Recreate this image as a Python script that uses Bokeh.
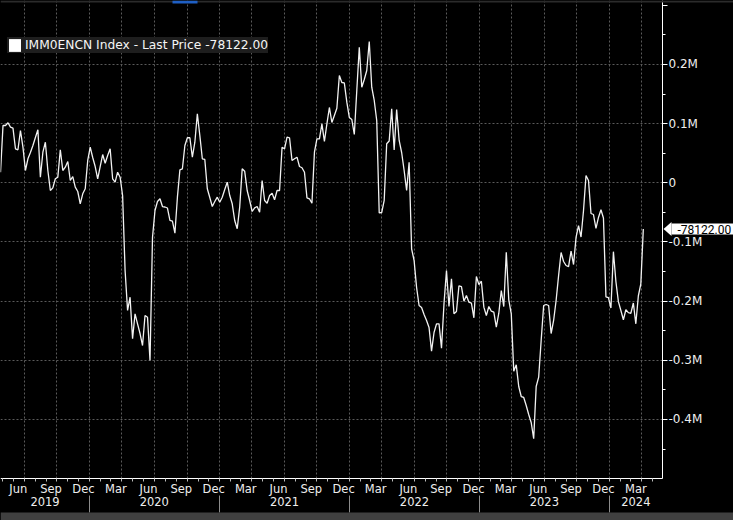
import pandas as pd
from bokeh.plotting import figure
from bokeh.models import (FixedTicker, DatetimeAxis, Range1d, Label, PolyAnnotation,
                          BoxAnnotation, GlobalInlineStyleSheet)
from bokeh.embed import file_html
from bokeh.resources import INLINE

# Weekly net position, thousands of contracts
net_k = [
    17.9, 96.8, 96.8, 101.4, 94.0, 92.3, 57.5, 55.8, 88.4, 60.2,
    20.8, 40.6, 51.2, 63.0, 76.6, 89.6, 9.5, 51.7, 68.6, 20.8,
    -13.0, -8.5, 6.8, 9.5, 55.8, 20.8, 26.4, 36.0, 3.9, 10.6,
    -7.4, -14.7, -35.5, -18.6, -10.1, 37.7, 60.2, 42.8, 27.5, 6.8,
    27.5, 47.8, 33.1, 46.1, 57.5, 6.8, 1.0, 17.9, 9.5, -21.5,
    -148.2, -215.8, -193.3, -263.6, -221.4, -238.3, -254.7, -275.0, -224.3, -227.1,
    -300.3, -92.4, -46.8, -31.6, -27.0, -40.1, -40.9, -42.6, -63.7, -64.9,
    -85.2, -24.3, 22.0, 23.7, 63.0, 76.1, 76.1, 43.3, 68.6, 116.6,
    79.9, 40.6, 39.4, -10.1, -24.8, -40.1, -31.6, -24.3, -32.8, -24.3,
    -11.3, 1.0, -21.5, -35.5, -63.7, -77.7, -41.2, 23.7, 19.6, -13.0,
    -29.9, -48.5, -42.3, -40.1, -49.7, 3.9, -29.9, -34.5, -21.5, -17.6,
    -28.7, -13.0, -13.0, 60.2, 57.5, 77.1, 76.1, 37.7, 40.6, 43.3,
    27.5, 25.4, 17.9, -25.4, -27.0, -34.5, 51.7, 74.4, 74.4, 99.7,
    69.8, 99.7, 127.3, 101.9, 113.7, 126.1, 181.3, 169.5, 168.7, 136.2,
    110.4, 107.0, 81.6, 156.0, 229.2, 161.6, 174.6, 189.8, 238.8, 161.6,
    139.1, 105.3, -51.0, -50.2, -29.9, 65.9, 70.6, 125.1, 55.4, 123.9,
    71.5, 51.2, 20.8, -13.0, 34.8, -111.5, -131.3, -176.9, -207.4, -210.7,
    -222.6, -232.7, -244.5, -284.6, -253.0, -238.3, -238.3, -279.5, -204.5, -148.2,
    -209.1, -162.2, -221.4, -217.5, -174.1, -175.3, -200.1, -190.5, -201.8, -203.5,
    -228.2, -158.4, -171.9, -166.3, -210.2, -224.3, -209.1, -217.0, -218.7, -244.0,
    -220.4, -182.0, -209.1, -117.3, -197.7, -221.4, -318.4, -307.6, -344.3, -361.2,
    -362.8, -376.4, -391.6, -405.1, -432.6, -344.3, -328.5, -266.5, -207.4, -205.7,
    -207.4, -254.7, -232.7, -198.9, -156.7, -117.8, -133.0, -139.8, -141.5, -115.3,
    -138.1, -92.4, -72.2, -91.6, -46.8, 12.3, 3.9, -51.9, -53.6, -77.2,
    -58.6, -45.6, -59.5, -192.7, -194.2, -211.6, -116.4, -166.8, -200.9, -215.8,
    -231.4, -214.5, -219.5, -220.5, -203.1, -238.3, -191.3, -170.7, -78.122,
]
dates = pd.date_range(end="2024-04-05", periods=len(net_k), freq="7D")
last_price = -78122.00
series_name = "IMM0ENCN Index - Last Price"

y_ticks = [-400, -300, -200, -100, 0, 100, 200, 300]
y_tick_labels = ["-0.4M", "-0.3M", "-0.2M", "-0.1M", "0", "0.1M", "0.2M", ""]
y_grid = [-400, -300, -200, -100, 0, 100, 200]
y_minor = [-450, -350, -250, -150, -50, 50, 150, 250]

month_ticks = ["2019-06-15", "2019-09-15", "2019-12-15",
               "2020-03-15", "2020-06-15", "2020-09-15", "2020-12-15",
               "2021-03-15", "2021-06-15", "2021-09-15", "2021-12-15",
               "2022-03-15", "2022-06-15", "2022-09-15", "2022-12-15",
               "2023-03-15", "2023-06-15", "2023-09-15", "2023-12-15",
               "2024-03-15"]
month_labels = ["Jun", "Sep", "Dec",
                "Mar", "Jun", "Sep", "Dec",
                "Mar", "Jun", "Sep", "Dec",
                "Mar", "Jun", "Sep", "Dec",
                "Mar", "Jun", "Sep", "Dec",
                "Mar"]
quarter_grid = ["2019-07-01", "2019-10-01", "2020-01-01", "2020-04-01", "2020-07-01",
                "2020-10-01", "2021-01-01", "2021-04-01", "2021-07-01", "2021-10-01",
                "2022-01-01", "2022-04-01", "2022-07-01", "2022-10-01", "2023-01-01",
                "2023-04-01", "2023-07-01", "2023-10-01", "2024-01-01", "2024-04-01"]
month_starts = pd.date_range("2019-05-01", "2024-05-01", freq="MS")
year_labels = ["2019", "2020", "2021", "2022", "2023", "2024"]
year_label_pos = ["2019-08-29", "2020-07-01", "2021-07-02", "2022-07-02", "2023-07-02", "2024-03-15"]
year_starts = ["2020-01-01", "2021-01-01", "2022-01-01", "2023-01-01", "2024-01-01"]


def ms(d):
    return pd.Timestamp(d).value / 1e6


FONT = "DejaVu Sans"
TXT = "#eeeeee"
GRID = "#5a5a5a"

# ---- layout geometry (pixel frame = whole 733x520 canvas) ----
origin = pd.Timestamp("2020-01-01")
DAYS_PER_PX = 365.25 / 130.0
VAL_PER_PX = 1.69


def xdate(px):
    return ms(origin + pd.Timedelta(days=(px - 89) * DAYS_PER_PX))


def yval(py):
    return (182.3 - py) * VAL_PER_PX


x0, x1 = xdate(0), xdate(733)
y_top, y_bot = yval(0), yval(520)
x_axis_pos = xdate(662)       # right value axis
y_axis_pos = yval(478)        # month axis
y_year_pos = yval(495)        # year axis

p = figure(width=733, height=520, x_axis_type="datetime", y_axis_location="right",
           x_range=Range1d(x0, x1), y_range=Range1d(y_bot, y_top), title=None,
           output_backend="svg", toolbar_location=None,
           background_fill_color="black", border_fill_color="black",
           min_border_left=0, min_border_top=0, min_border_right=0, min_border_bottom=0)
p.outline_line_color = None
p.stylesheets = [GlobalInlineStyleSheet(css="html, body { background-color: #000; overflow: hidden; }")]

# grids
p.xgrid.ticker = FixedTicker(ticks=[ms(d) for d in quarter_grid])
p.ygrid.ticker = FixedTicker(ticks=y_grid)
p.grid.grid_line_color = GRID
p.grid.grid_line_dash = "2 2"
p.grid.grid_line_width = 1
try:
    p.xgrid[0].cross_bounds = (y_axis_pos, y_top)
    p.ygrid[0].cross_bounds = (x0, x_axis_pos)
    grid_ok = True
except Exception:
    grid_ok = False
if not grid_ok:
    p.grid.visible = False
    p.segment(x0=[ms(d) for d in quarter_grid], x1=[ms(d) for d in quarter_grid],
              y0=y_axis_pos, y1=y_top, line_color=GRID, line_dash="2 2", line_width=1)
    p.segment(x0=x0, x1=x_axis_pos, y0=y_grid, y1=y_grid,
              line_color=GRID, line_dash="2 2", line_width=1)

# right value axis, drawn at a fixed location inside the canvas
ya = p.yaxis[0]
ya.fixed_location = x_axis_pos
ya.bounds = (y_axis_pos, y_top)
ya.ticker = FixedTicker(ticks=y_ticks, minor_ticks=y_minor)
ya.major_label_overrides = dict(zip(y_ticks, y_tick_labels))
ya.axis_line_color = "white"
ya.major_tick_line_color = "white"
ya.minor_tick_line_color = "white"
ya.major_tick_in = 0
ya.major_tick_out = 5
ya.minor_tick_in = 0
ya.minor_tick_out = 3
ya.major_label_standoff = 1
ya.major_label_text_color = TXT
ya.major_label_text_font = FONT
ya.major_label_text_font_size = "12px"

# month axis
xa = p.xaxis[0]
mt = [ms(d) for d in month_ticks]
xa.fixed_location = y_axis_pos
xa.bounds = (x0, x_axis_pos)
xa.ticker = FixedTicker(ticks=mt, minor_ticks=[ms(d) for d in month_starts])
xa.major_label_overrides = dict(zip(mt, month_labels))
xa.axis_line_color = "white"
xa.major_tick_in = 0
xa.major_tick_out = 0
xa.minor_tick_in = 0
xa.minor_tick_out = 3
xa.minor_tick_line_color = "#bbbbbb"
xa.major_label_standoff = 0
xa.major_label_text_color = TXT
xa.major_label_text_font = FONT
xa.major_label_text_font_size = "11.5px"

# year axis
yt = [ms(d) for d in year_label_pos]
year_axis = DatetimeAxis(ticker=FixedTicker(ticks=yt, minor_ticks=[ms(d) for d in year_starts]),
                         fixed_location=y_year_pos,
                         major_label_overrides=dict(zip(yt, year_labels)),
                         axis_line_color=None, major_tick_line_color=None,
                         minor_tick_line_color="#8c8c8c", minor_tick_in=0, minor_tick_out=17,
                         major_tick_in=0, major_tick_out=0, major_label_standoff=-16,
                         major_label_text_color=TXT, major_label_text_font=FONT,
                         major_label_text_font_size="11.5px")
p.add_layout(year_axis, "below")

# series
p.line(dates, net_k, line_color="#f2f2f2", line_width=1.3)

# legend swatch (zero-area box at the last point)
p.quad(left=[dates[-1]], right=[dates[-1]], top=[net_k[-1]], bottom=[net_k[-1]],
       fill_color="white", line_color=None,
       legend_label=f"{series_name} {last_price:.2f}")
lg = p.legend[0]
lg.location = (7, 467)
lg.background_fill_color = "#1e1e1e"
lg.background_fill_alpha = 1
lg.border_line_color = None
lg.padding = 7
lg.margin = 0
lg.glyph_width = 15
lg.glyph_height = 16
lg.label_height = 16
lg.label_standoff = 3
lg.label_text_color = "#f5f5f5"
lg.label_text_font = FONT
lg.label_text_font_size = "12.25px"

# top strip and bottom band of the terminal window
p.add_layout(BoxAnnotation(bottom=yval(2), fill_color="#2b2b2b", fill_alpha=1, line_color=None))
p.add_layout(BoxAnnotation(bottom=yval(3), left=xdate(172), right=xdate(197),
                           fill_color="#1f5fc4", fill_alpha=1, line_color=None))
p.add_layout(BoxAnnotation(top=yval(512), fill_color="#404040", fill_alpha=1, line_color=None))

# last price tag
yv = last_price / 1000
p.add_layout(PolyAnnotation(xs=[663, 671, 671], ys=[yv, yv + 7 * VAL_PER_PX, yv - 7 * VAL_PER_PX],
                            xs_units="screen", ys_units="data",
                            fill_color="white", fill_alpha=1, line_color=None))
p.add_layout(Label(x=671, y=yv, x_units="screen", y_units="data",
                   text=f"{last_price:.2f}", text_color="black", text_font="Roboto",
                   text_font_size="12px", text_align="left", text_baseline="middle",
                   background_fill_color="white",
                   padding=dict(left=6, right=6, top=1, bottom=1)))

open("out.html", "w").write(file_html(p, INLINE))
